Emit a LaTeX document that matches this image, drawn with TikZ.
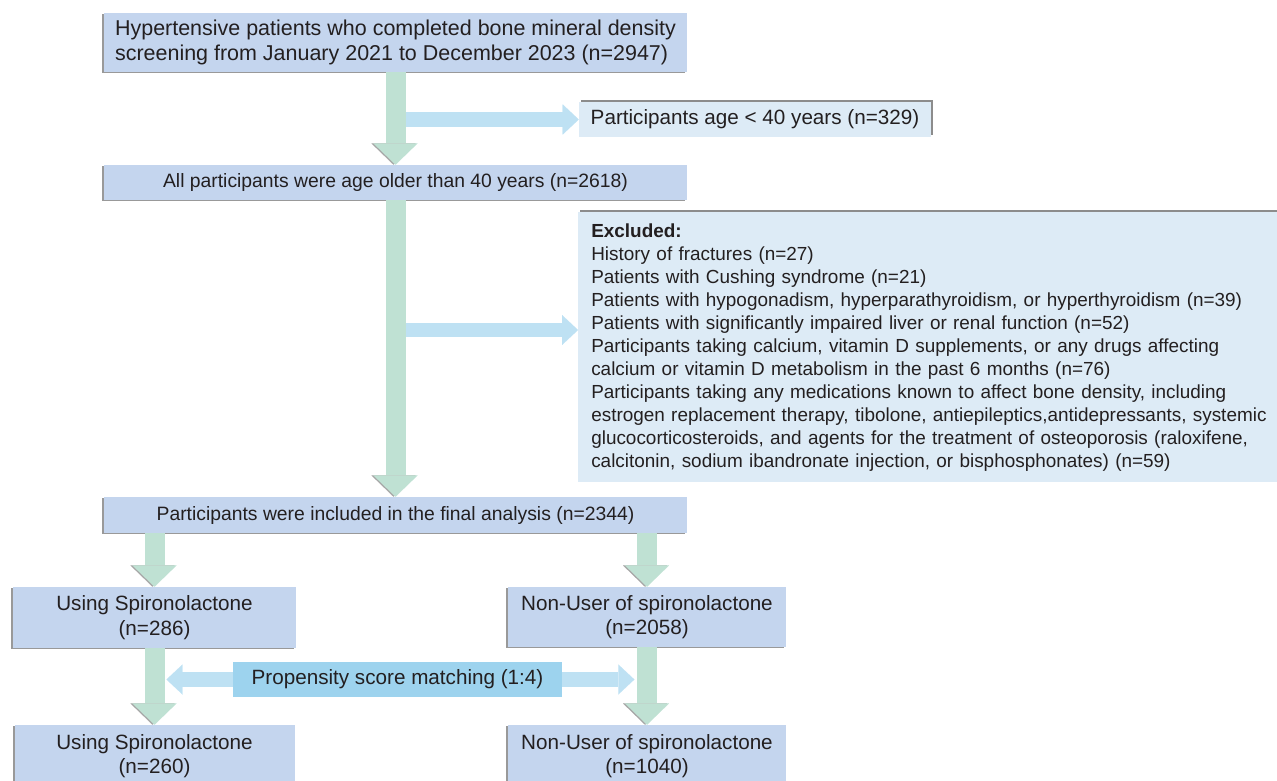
\documentclass[tikz,border=0pt]{standalone}
\usepackage{fontspec}
\setmainfont{Liberation Sans}
\usetikzlibrary{arrows.meta}
\definecolor{boxblue}{HTML}{C4D5EE}
\definecolor{paleblue}{HTML}{DDEBF6}
\definecolor{flowgreen}{HTML}{BFE1D3}
\definecolor{sideblue}{HTML}{BEE1F3}
\definecolor{psmblue}{HTML}{9DD3EE}
\definecolor{ink}{HTML}{231F20}
\begin{document}
\begin{tikzpicture}[x=0.75pt,y=-0.75pt,line join=round,
	mainbox/.style={fill=boxblue,text=ink,inner sep=0pt,align=center,font=\fontsize{15.5}{18.5}\selectfont,
		preaction={fill=black!40,transform canvas={xshift=-1.5pt,yshift=-0.6pt}}},
	palebox/.style={fill=paleblue,text=ink,inner sep=0pt,font=\fontsize{15.5}{18.5}\selectfont,
		preaction={fill=black!45,transform canvas={xshift=1.5pt,yshift=1.5pt}}},
	downarrow/.style={draw=flowgreen,line width=15pt,-{Triangle[length=16pt,width=33pt,line width=0.01pt]},
		preaction={draw=black!35,transform canvas={xshift=-1.5pt}}},
	sidearrow/.style={draw=sideblue,line width=11pt,-{Triangle[length=12pt,width=22.5pt,line width=0.01pt]}}]
	\useasboundingbox (0,0) rectangle (1277,781);
	\node[mainbox,align=left,minimum width=437.25pt,minimum height=44.25pt,
		font=\fontsize{16.1}{18.75}\selectfont] (screen) at (395.5,42.5)
		{Hypertensive patients who completed bone mineral density\\screening from January 2021 to December 2023 (n=2947)};
	\node[palebox,minimum width=264pt,minimum height=26.25pt] (young) at (755,119.5) {Participants age < 40 years (n=329)};
	\node[mainbox,minimum width=437.25pt,minimum height=26.25pt,font=\fontsize{14.5}{17}\selectfont] (older) at (395.5,182.5)
		{All participants were age older than 40 years (n=2618)};
	\node[palebox,anchor=north west,text width=620pt,align=left,inner xsep=9.75pt,minimum height=202.5pt,
		font=\fontsize{14.2}{17.25}\selectfont] (excluded) at (578,212)
		{\textbf{Excluded:}\\
		History of fractures (n=27)\\
		Patients with Cushing syndrome (n=21)\\
		Patients with hypogonadism, hyperparathyroidism, or hyperthyroidism (n=39)\\
		Patients with significantly impaired liver or renal function (n=52)\\
		Participants taking calcium, vitamin D supplements, or any drugs affecting\\
		calcium or vitamin D metabolism in the past 6 months (n=76)\\
		Participants taking any medications known to affect bone density, including\\
		estrogen replacement therapy, tibolone, antiepileptics,antidepressants, systemic\\
		glucocorticosteroids, and agents for the treatment of osteoporosis (raloxifene,\\
		calcitonin, sodium ibandronate injection, or bisphosphonates) (n=59)};
	\node[mainbox,minimum width=437.25pt,minimum height=27pt,font=\fontsize{14.5}{17}\selectfont] (final) at (395.5,515)
		{Participants were included in the final analysis (n=2344)};
	\node[mainbox,minimum width=212.25pt,minimum height=45.75pt] (users) at (154.5,617.5) {Using Spironolactone\\(n=286)};
	\node[mainbox,minimum width=208.5pt,minimum height=45pt] (nonusers) at (647,617) {Non-User of spironolactone\\(n=2058)};
	\node[fill=psmblue,text=ink,inner sep=0pt,minimum width=246.75pt,minimum height=26.25pt,
		font=\fontsize{15.5}{18.5}\selectfont] (psm) at (397.5,679.5) {Propensity score matching (1:4)};
	\node[mainbox,minimum width=210pt,minimum height=46.5pt] (matchedusers) at (154.5,756) {Using Spironolactone\\(n=260)};
	\node[mainbox,minimum width=208.5pt,minimum height=46.5pt] (matchednon) at (647,756) {Non-User of spironolactone\\(n=1040)};
	\draw[downarrow] (screen) -- (older);
	\draw[downarrow] (older) -- (final);
	\draw[downarrow] (final.south -| users) -- (users);
	\draw[downarrow] (final.south -| nonusers) -- (nonusers);
	\draw[downarrow] (users) -- (matchedusers);
	\draw[downarrow] (nonusers) -- (matchednon);
	\coordinate (tee1) at ([xshift=7.5pt]screen.south |- young.west);
	\coordinate (tee2) at ([xshift=7.5pt]older.south |- 0,330);
	\coordinate (lefttip) at ([xshift=9pt]users.south |- psm.west);
	\coordinate (righttip) at ([xshift=-9.5pt]nonusers.south |- psm.east);
	\draw[sidearrow] (tee1) -- (young);
	\draw[sidearrow] (tee2) -- (tee2 -| excluded.west);
	\draw[sidearrow] (psm.west) -- (lefttip);
	\draw[sidearrow] (psm.east) -- (righttip);
\end{tikzpicture}
\end{document}
